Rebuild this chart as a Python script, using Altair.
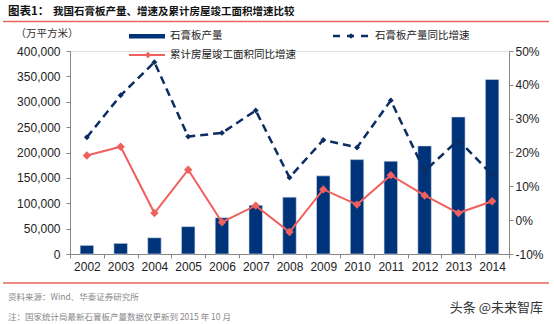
import altair as alt
import pandas as pd

years = ["2002", "2003", "2004", "2005", "2006", "2007", "2008", "2009", "2010", "2011", "2012", "2013", "2014"]
production = [17000, 21000, 32000, 54000, 71500, 96000, 112000, 154000, 186000, 183000, 213000, 270000, 344000]
prod_growth = [0.245, 0.369, 0.467, 0.247, 0.258, 0.324, 0.126, 0.237, 0.215, 0.354, 0.145, 0.237, 0.134]
area_growth = [0.191, 0.217, 0.021, 0.149, -0.006, 0.043, -0.035, 0.091, 0.046, 0.133, 0.073, 0.021, 0.056]

left_ticks = [0, 50000, 100000, 150000, 200000, 250000, 300000, 350000, 400000]
right_ticks = [-0.1, 0.0, 0.1, 0.2, 0.3, 0.4, 0.5]

df = pd.DataFrame({"year": years, "prod": production, "pg": prod_growth, "ag": area_growth})

NAVY_BAR = "#00347A"
NAVY_LINE = "#0B2D63"
RED = "#F0605D"
FONT = "Liberation Sans"
CJK = "Noto Sans CJK SC"

xaxis = alt.Axis(title=None, labelAngle=0, tickBand="extent", domainColor="#888888",
                 tickColor="#888888", tickSize=4, labelPadding=3, labelFontSize=12,
                 labelColor="#222222", labelFont=FONT)
xscale = alt.Scale(paddingInner=0, paddingOuter=0)
x_enc = alt.X("year:N", sort=years, bandPosition=0.5, scale=xscale, axis=xaxis)
x_bar = alt.X("year:N", sort=years, scale=xscale, axis=xaxis)

base = alt.Chart(df)

bars = base.mark_bar(width=alt.RelativeBandSize(0.4), color=NAVY_BAR, stroke="#d8e0ec", strokeWidth=0.6).encode(
    x=x_bar,
    y=alt.Y("prod:Q", scale=alt.Scale(domain=[0, 400000], nice=False),
            axis=alt.Axis(title=None, values=left_ticks, labelExpr="format(datum.value, ',')",
                          grid=False, orient="left",
                          domainColor="#888888", tickColor="#888888", tickSize=4, labelPadding=6,
                          labelFontSize=12, labelColor="#222222", labelFont=FONT)),
)

def yr():
    return alt.Scale(domain=[-0.1, 0.5], nice=False)

line_pg = base.mark_line(color=NAVY_LINE, strokeWidth=2.5, strokeDash=[8, 5]).encode(
    x=x_enc,
    y=alt.Y("pg:Q", scale=yr(),
            axis=alt.Axis(title=None, values=right_ticks, orient="right", grid=False,
                          labelExpr="round(datum.value*100) + '%'",
                          domainColor="#888888", tickColor="#888888", tickSize=4, labelPadding=2,
                          labelFontSize=12, labelColor="#222222", labelFont=FONT)),
)
pt_pg = base.mark_point(shape="diamond", filled=True, size=35, color=NAVY_LINE, opacity=1).encode(
    x=x_enc, y=alt.Y("pg:Q", scale=yr(), axis=None))
line_ag = base.mark_line(color=RED, strokeWidth=2).encode(
    x=x_enc, y=alt.Y("ag:Q", scale=yr(), axis=None))
pt_ag = base.mark_point(shape="diamond", filled=True, size=70, color=RED, opacity=1).encode(
    x=x_enc, y=alt.Y("ag:Q", scale=yr(), axis=None))

one = alt.Chart(pd.DataFrame({"a": [0]}))

def txt(s, x, y, size=10.5, color="#222222", font=CJK, weight="normal", align="left"):
    return one.mark_text(text=s, fontSize=size, color=color, font=font, fontWeight=weight,
                         align=align, baseline="middle").encode(x=alt.value(x), y=alt.value(y))

def rule(x1, x2, y, color, width, dash=None):
    kw = dict(color=color, strokeWidth=width)
    if dash:
        kw["strokeDash"] = dash
    return one.mark_rule(**kw).encode(x=alt.value(x1), x2=alt.value(x2), y=alt.value(y))

def dot(x, y, color, size):
    return one.mark_point(shape="diamond", filled=True, size=size, color=color, opacity=1).encode(
        x=alt.value(x), y=alt.value(y))

ox, oy = 70, 51
annos = [
    txt("图表1：", 8 - ox, 12 - oy, size=11.5, weight="bold", color="#111111"),
    txt("我国石膏板产量、增速及累计房屋竣工面积增速比较", 53 - ox, 12 - oy, size=10.5, weight="bold", color="#111111"),
    rule(3 - ox, 549 - ox, 21.5 - oy, "#E8665A", 1.3),
    txt("（万平方米）", 47 - ox, 34 - oy, size=10.5, color="#333333", align="center"),
    one.mark_rect(color=NAVY_BAR).encode(x=alt.value(129 - ox), x2=alt.value(165 - ox),
                                         y=alt.value(34 - oy), y2=alt.value(38.5 - oy)),
    txt("石膏板产量", 170 - ox, 36 - oy, size=10.5),
    rule(333 - ox, 370 - ox, 36 - oy, NAVY_LINE, 2.5, [7, 7]),
    dot(351 - ox, 36 - oy, NAVY_LINE, 30),
    txt("石膏板产量同比增速", 375 - ox, 36 - oy, size=10.5),
    rule(129 - ox, 165 - ox, 55 - oy, RED, 2),
    dot(148 - ox, 55 - oy, RED, 40),
    txt("累计房屋竣工面积同比增速", 170 - ox, 55 - oy, size=10.5),
    rule(3 - ox, 549 - ox, 283 - oy, "#E8665A", 1.3),
    txt("资料来源：Wind、华泰证券研究所", 8 - ox, 297 - oy, size=8.5, color="#888888"),
    txt("注：国家统计局最新石膏板产量数据仅更新到 2015 年 10 月", 8 - ox, 317 - oy, size=8.5, color="#888888"),
    txt("头条 @未来智库", 543 - ox, 308 - oy, size=13, color="#333333", align="right"),
]

chart = alt.layer(bars, line_pg, line_ag, pt_ag, pt_pg, *annos).resolve_scale(y="independent").properties(
    width=439, height=203,
    autosize=alt.AutoSizeParams(type="none"),
    padding={"left": ox, "top": oy, "right": 45, "bottom": 70},
).configure_view(stroke=None).configure(background="white")

chart.save("out.html", embed_options={"renderer": "svg", "actions": False})
